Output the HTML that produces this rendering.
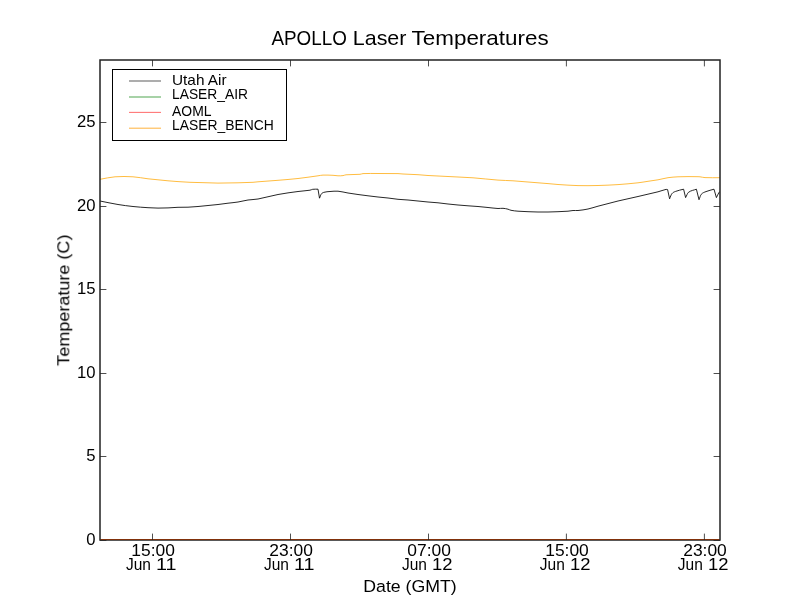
<!DOCTYPE html>
<html><head><meta charset="utf-8"><title>APOLLO Laser Temperatures</title>
<style>html,body{margin:0;padding:0;background:#fff;width:800px;height:600px;overflow:hidden}svg{display:block} text{will-change:transform}</style>
</head><body>
<svg width="800" height="600" viewBox="0 0 800 600">
<rect width="800" height="600" fill="#fff"/>
<g fill="none" stroke-linejoin="round">
<path d="M100.00,179.00C105.00,178.17 110.00,176.88 115.00,176.50C121.00,176.05 127.00,176.14 133.00,176.50C138.00,176.80 143.00,177.93 148.00,178.50C154.67,179.26 161.33,179.88 168.00,180.50C171.33,180.81 174.67,181.07 178.00,181.30C182.00,181.57 186.00,181.84 190.00,182.00C196.00,182.24 202.00,182.33 208.00,182.50C211.33,182.60 214.67,182.80 218.00,182.80C224.67,182.80 231.33,182.65 238.00,182.50C243.00,182.39 248.00,182.25 253.00,182.00C254.67,181.92 256.33,181.63 258.00,181.50C264.67,180.97 271.33,180.55 278.00,180.00C284.67,179.45 291.33,178.95 298.00,178.20C304.67,177.45 311.33,176.41 318.00,175.50C319.67,175.27 321.33,174.86 323.00,174.80C326.33,174.69 329.67,174.84 333.00,175.00C334.67,175.08 336.33,175.45 338.00,175.50C339.67,175.55 341.33,175.51 343.00,175.30C344.00,175.18 345.00,174.58 346.00,174.50C350.67,174.14 355.33,174.33 360.00,174.00C361.00,173.93 362.00,173.34 363.00,173.30C368.00,173.08 373.00,173.20 378.00,173.20C384.67,173.20 391.33,173.17 398.00,173.30C399.67,173.33 401.33,173.61 403.00,173.70C408.00,173.97 413.00,174.10 418.00,174.40C421.33,174.60 424.67,174.98 428.00,175.20C431.33,175.42 434.67,175.53 438.00,175.70C444.67,176.03 451.33,176.36 458.00,176.70C463.00,176.96 468.00,177.11 473.00,177.50C481.33,178.15 489.67,179.18 498.00,179.80C503.00,180.18 508.00,180.18 513.00,180.50C518.00,180.82 523.00,181.30 528.00,181.70C534.67,182.23 541.33,182.74 548.00,183.30C551.33,183.58 554.67,183.98 558.00,184.20C564.67,184.64 571.33,185.13 578.00,185.30C584.67,185.47 591.33,185.37 598.00,185.20C604.67,185.03 611.33,184.75 618.00,184.30C624.67,183.85 631.33,183.23 638.00,182.50C641.33,182.13 644.67,181.50 648.00,181.00C651.33,180.50 654.67,180.10 658.00,179.50C661.33,178.90 664.67,177.90 668.00,177.40C671.33,176.90 674.67,176.68 678.00,176.50C681.33,176.32 684.67,176.32 688.00,176.30C691.33,176.28 694.67,176.34 698.00,176.40C698.67,176.41 699.33,176.41 700.00,176.50C701.67,176.71 703.33,177.23 705.00,177.30C710.00,177.53 715.00,177.37 720.00,177.40" stroke="#ffa500" stroke-opacity="0.75" stroke-width="1" transform="translate(0,0.3)"/>
<path d="M100.00,201.00C106.00,202.17 112.00,203.50 118.00,204.50C123.00,205.33 128.00,205.97 133.00,206.50C138.00,207.03 143.00,207.38 148.00,207.70C151.33,207.91 154.67,208.07 158.00,208.10C161.33,208.13 164.67,208.03 168.00,207.90C171.33,207.77 174.67,207.42 178.00,207.30C181.33,207.18 184.67,207.33 188.00,207.20C191.33,207.07 194.67,206.78 198.00,206.50C201.33,206.22 204.67,205.83 208.00,205.50C211.33,205.17 214.67,204.88 218.00,204.50C221.33,204.12 224.67,203.62 228.00,203.20C231.33,202.78 234.67,202.53 238.00,202.00C241.33,201.47 244.67,200.50 248.00,200.00C251.33,199.50 254.67,199.61 258.00,199.00C264.67,197.78 271.33,195.75 278.00,194.50C284.67,193.25 291.33,192.40 298.00,191.50C302.00,190.96 306.00,190.80 310.00,190.20C310.90,190.07 311.80,189.41 312.70,189.30C314.47,189.08 316.23,189.23 318.00,189.20C318.50,192.20 319.00,195.20 319.50,198.20C320.10,196.80 320.70,194.79 321.30,194.00C322.20,192.82 323.10,192.56 324.00,192.30C326.00,191.73 328.00,191.66 330.00,191.50C332.67,191.29 335.33,190.98 338.00,191.20C341.33,191.48 344.67,192.45 348.00,193.00C351.33,193.55 354.67,194.03 358.00,194.50C361.33,194.97 364.67,195.38 368.00,195.80C371.33,196.22 374.67,196.63 378.00,197.00C381.33,197.37 384.67,197.62 388.00,198.00C391.33,198.38 394.67,198.97 398.00,199.30C401.33,199.63 404.67,199.72 408.00,200.00C411.33,200.28 414.67,200.67 418.00,201.00C421.33,201.33 424.67,201.70 428.00,202.00C431.33,202.30 434.67,202.47 438.00,202.80C441.33,203.13 444.67,203.63 448.00,204.00C451.33,204.37 454.67,204.70 458.00,205.00C461.33,205.30 464.67,205.55 468.00,205.80C471.33,206.05 474.67,206.22 478.00,206.50C481.33,206.78 484.67,207.17 488.00,207.50C491.33,207.83 494.67,208.32 498.00,208.50C499.67,208.59 501.33,208.18 503.00,208.30C504.67,208.42 506.33,208.78 508.00,209.20C509.00,209.45 510.00,210.10 511.00,210.30C513.33,210.77 515.67,211.01 518.00,211.20C521.33,211.47 524.67,211.57 528.00,211.70C531.33,211.83 534.67,211.95 538.00,212.00C541.33,212.05 544.67,212.05 548.00,212.00C551.33,211.95 554.67,211.83 558.00,211.70C561.33,211.57 564.67,211.47 568.00,211.20C569.67,211.07 571.33,210.62 573.00,210.50C574.67,210.38 576.33,210.67 578.00,210.50C581.33,210.17 584.67,209.72 588.00,209.00C591.33,208.28 594.67,207.09 598.00,206.20C604.67,204.42 611.33,202.62 618.00,201.00C624.67,199.38 631.33,198.03 638.00,196.50C644.67,194.97 651.33,193.49 658.00,191.80C660.67,191.12 663.33,190.01 666.00,189.40C666.53,189.28 667.07,189.53 667.60,189.60C668.27,192.67 668.93,195.73 669.60,198.80C670.33,197.13 671.07,194.70 671.80,193.80C673.07,192.24 674.33,191.89 675.60,191.40C678.27,190.36 680.93,189.93 683.60,189.20C684.27,192.00 684.93,194.80 685.60,197.60C686.53,195.87 687.47,193.13 688.40,192.40C691.07,190.33 693.73,190.27 696.40,189.20C697.27,192.70 698.13,196.20 699.00,199.70C699.73,197.93 700.47,195.25 701.20,194.40C702.80,192.55 704.40,192.25 706.00,191.60C708.67,190.52 711.33,190.00 714.00,189.20C714.80,192.00 715.60,194.80 716.40,197.60C717.20,196.00 718.00,194.16 718.80,192.80C719.20,192.12 719.60,191.93 720.00,191.50" stroke="#000" stroke-width="0.85"/>
</g>
<rect x="100" y="60" width="620" height="480" fill="none" stroke="#222" stroke-width="1.5"/>
<line x1="100.7" y1="539.5" x2="719.3" y2="539.5" stroke="#80300a" stroke-width="1"/>
<path d="M100,540.50h6.4M720,540.50h-6.4M100,456.50h6.4M720,456.50h-6.4M100,373.50h6.4M720,373.50h-6.4M100,289.50h6.4M720,289.50h-6.4M100,206.50h6.4M720,206.50h-6.4M100,122.50h6.4M720,122.50h-6.4M152.50,540v-6.4M152.50,60v6.4M290.50,540v-6.4M290.50,60v6.4M428.50,540v-6.4M428.50,60v6.4M566.40,540v-6.4M566.40,60v6.4M704.40,540v-6.4M704.40,60v6.4" stroke="#222" stroke-width="0.8" fill="none"/>
<g font-family='"Liberation Sans", sans-serif' font-size="16.67" fill="#000">
<text x="95.5" y="544.90" text-anchor="end">0</text>
<text x="95.5" y="460.90" text-anchor="end">5</text>
<text x="95.5" y="377.90" text-anchor="end">10</text>
<text x="95.5" y="293.90" text-anchor="end">15</text>
<text x="95.5" y="210.90" text-anchor="end">20</text>
<text x="95.5" y="126.90" text-anchor="end">25</text>
<text x="153.10" y="556" text-anchor="middle" textLength="43.6" lengthAdjust="spacingAndGlyphs">15:00</text>
<text x="125.90" y="569.7" textLength="25.00" lengthAdjust="spacingAndGlyphs">Jun</text>
<text x="156.00" y="569.7" textLength="20.50" lengthAdjust="spacingAndGlyphs">11</text>
<text x="291.10" y="556" text-anchor="middle" textLength="43.6" lengthAdjust="spacingAndGlyphs">23:00</text>
<text x="263.90" y="569.7" textLength="25.00" lengthAdjust="spacingAndGlyphs">Jun</text>
<text x="294.00" y="569.7" textLength="20.50" lengthAdjust="spacingAndGlyphs">11</text>
<text x="429.10" y="556" text-anchor="middle" textLength="43.6" lengthAdjust="spacingAndGlyphs">07:00</text>
<text x="401.90" y="569.7" textLength="25.00" lengthAdjust="spacingAndGlyphs">Jun</text>
<text x="432.00" y="569.7" textLength="20.50" lengthAdjust="spacingAndGlyphs">12</text>
<text x="567.00" y="556" text-anchor="middle" textLength="43.6" lengthAdjust="spacingAndGlyphs">15:00</text>
<text x="539.80" y="569.7" textLength="25.00" lengthAdjust="spacingAndGlyphs">Jun</text>
<text x="569.90" y="569.7" textLength="20.50" lengthAdjust="spacingAndGlyphs">12</text>
<text x="705.00" y="556" text-anchor="middle" textLength="43.6" lengthAdjust="spacingAndGlyphs">23:00</text>
<text x="677.80" y="569.7" textLength="25.00" lengthAdjust="spacingAndGlyphs">Jun</text>
<text x="707.90" y="569.7" textLength="20.50" lengthAdjust="spacingAndGlyphs">12</text>
<text x="410" y="591.8" text-anchor="middle" textLength="93.4" lengthAdjust="spacingAndGlyphs">Date (GMT)</text>
<text transform="translate(69.3,300.2) rotate(-90)" text-anchor="middle" textLength="131.3" lengthAdjust="spacingAndGlyphs">Temperature (C)</text>
</g>
<g font-family='"Liberation Sans", sans-serif' font-size="19.44">
<text x="271.40" y="44.9" textLength="75.40" lengthAdjust="spacingAndGlyphs">APOLLO</text>
<text x="352.80" y="44.9" textLength="53.60" lengthAdjust="spacingAndGlyphs">Laser</text>
<text x="411.60" y="44.9" textLength="137.00" lengthAdjust="spacingAndGlyphs">Temperatures</text>
</g>
<rect x="112.5" y="69.5" width="174" height="71" fill="#fff" stroke="#000" stroke-width="1"/>
<g font-family='"Liberation Sans", sans-serif' font-size="13.9" fill="#000">
<line x1="129" y1="81.0" x2="161" y2="81.0" stroke="#999999" stroke-width="1.6"/>
<text x="172" y="85.0" textLength="54.6" lengthAdjust="spacingAndGlyphs">Utah Air</text>
<line x1="129" y1="97.0" x2="161" y2="97.0" stroke="#5fae5f" stroke-width="1.1"/>
<text x="172" y="98.7" textLength="76.0" lengthAdjust="spacingAndGlyphs">LASER_AIR</text>
<line x1="129" y1="112.4" x2="161" y2="112.4" stroke="#ff7777" stroke-width="1.1"/>
<text x="172" y="115.6" textLength="39.5" lengthAdjust="spacingAndGlyphs">AOML</text>
<line x1="129" y1="128.2" x2="161" y2="128.2" stroke="#ffb84d" stroke-width="1.1"/>
<text x="172" y="129.6" textLength="101.8" lengthAdjust="spacingAndGlyphs">LASER_BENCH</text>
</g>
</svg>
</body></html>
